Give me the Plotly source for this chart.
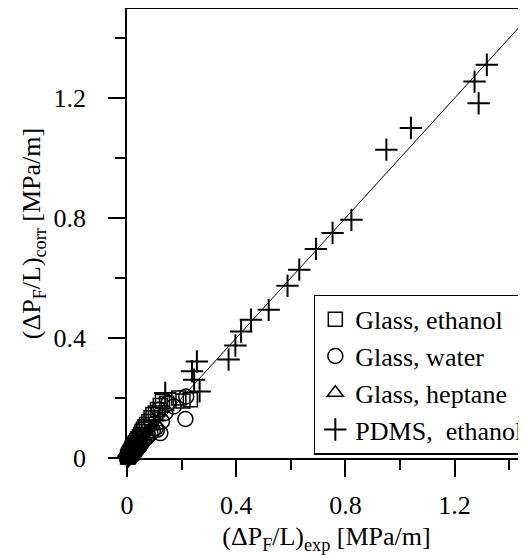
import plotly.graph_objects as go

# ---- data ----
glass_ethanol_x = [0.002, 0.004, 0.005, 0.006, 0.007, 0.008, 0.009, 0.010, 0.011, 0.012, 0.013, 0.014,
                   0.015, 0.016, 0.017, 0.018, 0.019, 0.020, 0.021, 0.023, 0.024, 0.026, 0.027, 0.029,
                   0.030, 0.032, 0.034, 0.036, 0.038, 0.040, 0.042, 0.045, 0.050, 0.055, 0.060, 0.066,
                   0.072, 0.080, 0.088, 0.095, 0.104, 0.112, 0.122, 0.130, 0.145, 0.190, 0.205, 0.232]
glass_ethanol_y = [0.003, 0.006, 0.004, 0.010, 0.009, 0.013, 0.008, 0.016, 0.014, 0.020, 0.013, 0.022,
                   0.019, 0.026, 0.017, 0.030, 0.024, 0.034, 0.022, 0.038, 0.030, 0.043, 0.028, 0.048,
                   0.036, 0.052, 0.040, 0.058, 0.046, 0.064, 0.050, 0.070, 0.078, 0.088, 0.096, 0.104,
                   0.112, 0.122, 0.134, 0.145, 0.150, 0.162, 0.175, 0.188, 0.182, 0.200, 0.190, 0.194]

glass_water_x = [0.003, 0.005, 0.007, 0.008, 0.010, 0.011, 0.013, 0.014, 0.016, 0.017, 0.019, 0.020,
                 0.022, 0.024, 0.026, 0.028, 0.030, 0.032, 0.035, 0.037, 0.040, 0.042, 0.045, 0.048,
                 0.055, 0.062, 0.070, 0.078, 0.086, 0.095, 0.105, 0.110, 0.116, 0.122, 0.128, 0.140,
                 0.152, 0.171, 0.214, 0.217]
glass_water_y = [0.002, 0.004, 0.005, 0.007, 0.006, 0.010, 0.009, 0.012, 0.011, 0.016, 0.014, 0.018,
                 0.016, 0.022, 0.020, 0.026, 0.024, 0.030, 0.028, 0.034, 0.033, 0.040, 0.038, 0.046,
                 0.052, 0.060, 0.066, 0.075, 0.082, 0.092, 0.100, 0.094, 0.161, 0.083, 0.122, 0.150,
                 0.183, 0.172, 0.130, 0.205]

glass_heptane_x = [0.002, 0.003, 0.004, 0.006, 0.007, 0.009, 0.010, 0.012, 0.013, 0.015, 0.017, 0.019,
                   0.021, 0.023, 0.025, 0.027, 0.029, 0.031, 0.034, 0.036, 0.039, 0.041, 0.044, 0.047, 0.054]
glass_heptane_y = [0.002, 0.004, 0.006, 0.007, 0.009, 0.010, 0.013, 0.012, 0.015, 0.016, 0.020, 0.019,
                   0.025, 0.024, 0.030, 0.027, 0.035, 0.032, 0.040, 0.036, 0.045, 0.042, 0.050, 0.046, 0.055]

pdms_ethanol_x = [0.004, 0.008, 0.012, 0.016, 0.021, 0.027, 0.034, 0.042, 0.052, 0.065, 0.080, 0.100,
                  0.140, 0.238, 0.246, 0.256, 0.266, 0.372, 0.397, 0.418, 0.454, 0.519, 0.588, 0.631,
                  0.692, 0.753, 0.822, 0.950, 1.040, 1.273, 1.288, 1.318]
pdms_ethanol_y = [0.005, 0.009, 0.014, 0.018, 0.024, 0.030, 0.040, 0.050, 0.062, 0.078, 0.095, 0.125,
                  0.217, 0.289, 0.261, 0.322, 0.222, 0.328, 0.375, 0.422, 0.461, 0.494, 0.574, 0.628,
                  0.697, 0.750, 0.794, 1.028, 1.100, 1.255, 1.183, 1.311]

parity_line = [0.0, 1.6]

x_title = "(ΔP<sub>F</sub>/L)<sub>exp</sub> [MPa/m]"
y_title = "(ΔP<sub>F</sub>/L)<sub>corr</sub> [MPa/m]"

FONT = "Liberation Serif, Times New Roman, serif"

fig = go.Figure()

fig.add_trace(go.Scatter(x=parity_line, y=parity_line, mode="lines",
                         line=dict(color="black", width=1), showlegend=False,
                         hoverinfo="skip"))

def add(xs, ys, name, symbol, size, lw):
    fig.add_trace(go.Scatter(
        x=xs, y=ys, mode="markers", name=name, cliponaxis=False,
        marker=dict(symbol=symbol, size=size, color="black",
                    line=dict(color="black", width=lw))))

add(glass_ethanol_x, glass_ethanol_y, "Glass, ethanol", "square-open", 14, 1.5)
add(glass_water_x, glass_water_y, "Glass, water", "circle-open", 15, 1.5)
add(glass_heptane_x, glass_heptane_y, "Glass, heptane", "triangle-up-open", 14, 1.5)
add(pdms_ethanol_x, pdms_ethanol_y, "PDMS,  ethanol", "cross-thin-open", 16, 2)

axis_common = dict(
    showline=True, linecolor="black", linewidth=1.6,
    ticks="outside", ticklen=17, tickwidth=1.6, tickcolor="black",
    dtick=0.4, tick0=0, zeroline=False, showgrid=False,
    tickfont=dict(family=FONT, size=26, color="black"),
    minor=dict(ticks="outside", ticklen=10, tickwidth=1.6, tickcolor="black",
               dtick=0.2, tick0=0, showgrid=False),
)

# the page body has an 8px margin, so the figure is offset by 8px; margins compensate
fig.update_layout(
    width=526, height=558,
    margin=dict(l=119, r=8, t=1, b=108, autoexpand=False),
    paper_bgcolor="white", plot_bgcolor="white",
    font=dict(family=FONT, size=26, color="black"),
    xaxis=dict(range=[0, 1.4615], mirror=True, ticklabelstandoff=6,
               title=dict(text=x_title, font=dict(family=FONT, size=26), standoff=8),
               **axis_common),
    yaxis=dict(range=[0, 1.497], ticklabelstandoff=17,
               title=dict(text=y_title, font=dict(family=FONT, size=26), standoff=5),
               **axis_common),
    legend=dict(x=0.469, y=0.364, xanchor="left", yanchor="top",
                bordercolor="black", borderwidth=1.2, bgcolor="white",
                font=dict(family=FONT, size=26, color="black"),
                itemwidth=30, tracegroupgap=0),
    showlegend=True,
)

fig.write_html("out.html")
